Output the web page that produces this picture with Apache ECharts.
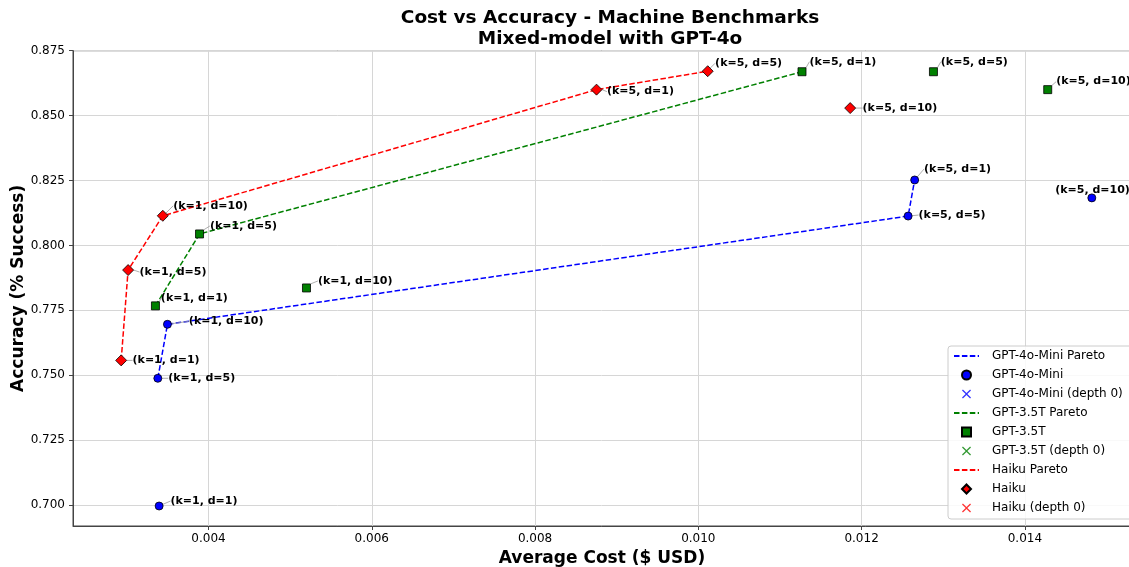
<!DOCTYPE html>
<html>
<head>
<meta charset="utf-8">
<script src="https://cdn.jsdelivr.net/npm/echarts@6/dist/echarts.min.js"></script>
<style>html,body{margin:0;padding:0;background:#fff}#chart{width:1129px;height:567px}</style>
</head>
<body>
<div id="chart"></div>
<script>
// point labels shared by all three models
var pointLabels = ['(k=1, d=1)', '(k=1, d=5)', '(k=1, d=10)', '(k=5, d=1)', '(k=5, d=5)', '(k=5, d=10)'];

var miniCost = [0.003395, 0.003379, 0.003497, 0.01265, 0.01257, 0.01482];
var miniAcc = [0.6996, 0.7488, 0.7696, 0.8252, 0.8113, 0.8183];
var miniPareto = [1, 2, 4, 3];

var gpt35Cost = [0.00335, 0.00389, 0.0052, 0.01127, 0.01288, 0.01428];
var gpt35Acc = [0.7767, 0.8044, 0.7836, 0.8669, 0.8669, 0.8600];
var gpt35Pareto = [0, 1, 3];

var haikuCost = [0.00293, 0.003015, 0.00344, 0.008753, 0.010115, 0.01186];
var haikuAcc = [0.7557, 0.7905, 0.8114, 0.8600, 0.8671, 0.8529];
var haikuPareto = [0, 1, 2, 3, 4];

var xTicks = [0.004, 0.006, 0.008, 0.010, 0.012, 0.014];
var yTicks = [0.700, 0.725, 0.750, 0.775, 0.800, 0.825, 0.850, 0.875];

// where each label sits relative to its point (px)
var miniOff = [[11, -5], [10, 0], [21, -3], [9, -11], [10, -1], [-37, -8]];
var gpt35Off = [[5, -8], [10, -8], [11, -7], [7, -10], [7, -10], [8, -8]];
var haikuOff = [[11, 0], [11, 2], [10, -10], [10, 2], [7, -8], [12, 0]];

var FONT = 'DejaVu Sans';
var X_PATH = 'path://M0,1L1,0L5,4L9,0L10,1L6,5L10,9L9,10L5,6L1,10L0,9L4,5Z';
var ICONS = {
  circle: 'path://M5,0A5,5 0 1,1 5,10A5,5 0 1,1 5,0Z',
  rect: 'path://M0,0H10V10H0Z',
  diamond: 'path://M5,0L10,5L5,10L0,5Z'
};

var legendItems = [];

function pts(cost, acc) {
  return cost.map(function (c, i) { return [c, acc[i], pointLabels[i]]; });
}
function paretoPts(cost, acc, idx) {
  return idx.map(function (i) { return [cost[i], acc[i]]; });
}

function makeModel(name, color, symbol, size, cost, acc, idx, off) {
  var half = size / 2;
  legendItems.push(
    {name: name + ' Pareto', itemStyle: {color: 'rgba(0,0,0,0)', borderWidth: 0}},
    {name: name, icon: ICONS[symbol]},
    {name: name + ' (depth 0)', icon: X_PATH}
  );
  return [
    {
      name: name + ' Pareto', type: 'line', symbol: 'none', z: 3,
      data: paretoPts(cost, acc, idx),
      lineStyle: {color: color, width: 1.5, type: [5.5, 2.4]},
      itemStyle: {color: color}
    },
    {
      name: name, type: 'scatter', symbol: symbol, symbolSize: size, z: 4,
      data: pts(cost, acc),
      itemStyle: {color: color, borderColor: '#000', borderWidth: 0.8, opacity: 1},
      label: {
        show: true, position: 'right', distance: 0,
        formatter: function (p) { return p.value[2]; },
        fontFamily: FONT, fontWeight: 'bold', fontSize: 11, color: '#000'
      },
      labelLine: {show: true, lineStyle: {color: '#999', width: 0.8}},
      labelLayout: function (p) {
        var o = off[p.dataIndex];
        return {dx: o[0] - half, dy: o[1]};
      }
    },
    {
      name: name + ' (depth 0)', type: 'scatter', symbol: X_PATH, symbolSize: 9,
      data: [],
      itemStyle: {color: color}
    }
  ];
}

var series = [].concat(
  makeModel('GPT-4o-Mini', '#0000ff', 'circle', 8, miniCost, miniAcc, miniPareto, miniOff),
  makeModel('GPT-3.5T', '#008000', 'rect', 8, gpt35Cost, gpt35Acc, gpt35Pareto, gpt35Off),
  makeModel('Haiku', '#ff0000', 'diamond', 11, haikuCost, haikuAcc, haikuPareto, haikuOff)
);

var chart = echarts.init(document.getElementById('chart'));
chart.setOption({
  animation: false,
  backgroundColor: '#fff',
  title: {
    text: 'Cost vs Accuracy - Machine Benchmarks\nMixed-model with GPT-4o',
    left: 605, top: 3, textAlign: 'center',
    textStyle: {fontFamily: FONT, fontSize: 18.5, fontWeight: 'bold', lineHeight: 21, color: '#000'}
  },
  grid: {
    left: 73, top: 50.7, right: -2, bottom: 41,
    containLabel: false, outerBoundsMode: 'none',
    show: true, borderColor: '#444', borderWidth: 1
  },
  legend: {
    orient: 'vertical', left: 948, top: 346,
    data: legendItems,
    itemWidth: 25, itemHeight: 9, itemGap: 5,
    padding: [3, 12, 4, 5],
    backgroundColor: 'rgba(255,255,255,0.85)', borderColor: '#ccc', borderWidth: 1, borderRadius: 3,
    textStyle: {fontFamily: FONT, fontSize: 12, color: '#000', lineHeight: 14, padding: [0, 0, 0, 8]}
  },
  xAxis: {
    type: 'value', min: 0.00234, max: 0.0153,
    name: 'Average Cost ($ USD)', nameLocation: 'middle', nameGap: 21,
    nameTextStyle: {fontFamily: FONT, fontSize: 17, fontWeight: 'bold', color: '#000'},
    axisLine: {show: true, lineStyle: {color: '#444', width: 1}},
    axisTick: {show: true, inside: false, length: 4, customValues: xTicks, lineStyle: {color: '#444'}},
    axisLabel: {customValues: xTicks, fontFamily: FONT, fontSize: 12, color: '#000', margin: 7,
      formatter: function (v) { return v.toFixed(3); }},
    splitLine: {show: true, lineStyle: {color: '#d6d6d6', width: 1}}
  },
  yAxis: {
    type: 'value', min: 0.6919, max: 0.875,
    name: 'Accuracy (% Success)', nameLocation: 'middle', nameGap: 46, nameRotate: 90,
    nameMoveOverlap: false,
    nameTextStyle: {fontFamily: FONT, fontSize: 17, fontWeight: 'bold', color: '#000'},
    axisLine: {show: true, lineStyle: {color: '#444', width: 1}},
    axisTick: {show: true, inside: false, length: 4, customValues: yTicks, lineStyle: {color: '#444'}},
    axisLabel: {customValues: yTicks, fontFamily: FONT, fontSize: 12, color: '#000', margin: 8,
      formatter: function (v) { return v.toFixed(3); }},
    splitLine: {show: true, lineStyle: {color: '#d6d6d6', width: 1}}
  },
  series: series
});
</script>
</body>
</html>
